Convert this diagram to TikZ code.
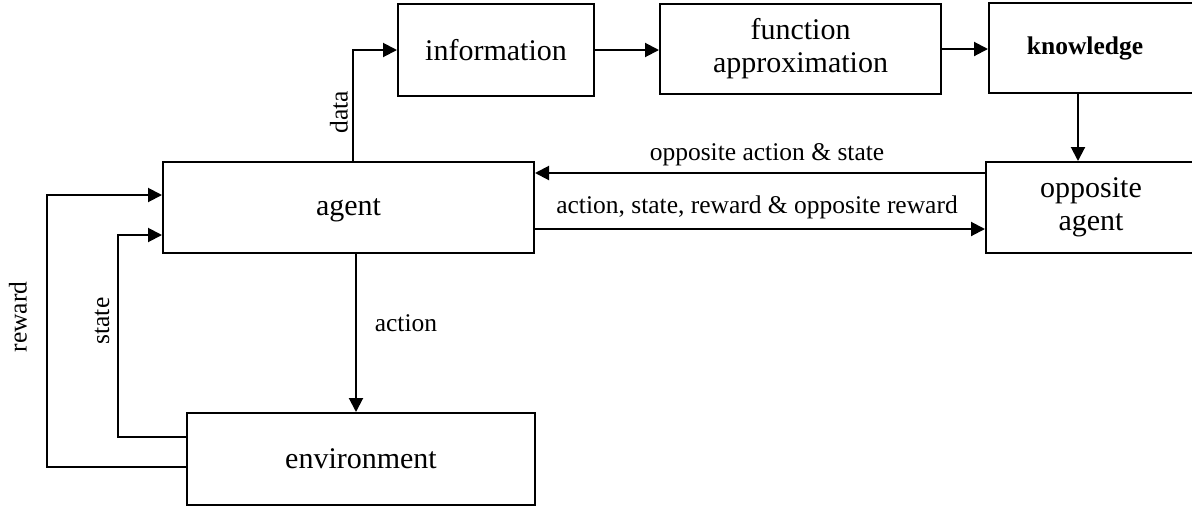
\documentclass[tikz,border=0pt]{standalone}
\usepackage{fontspec}
\setmainfont{Liberation Serif}
\usetikzlibrary{arrows.meta}
\begin{document}
\begin{tikzpicture}[x=1pt,y=-1pt,
  box/.style={draw, line width=2pt, inner sep=0pt, align=center,
    font=\fontsize{30}{33}\selectfont},
  conn/.style={line width=2pt},
  arr/.style={conn, -{Triangle[length=14pt,width=14pt]}},
  elabel/.style={font=\fontsize{25.5}{28}\selectfont, inner sep=0pt}]
\useasboundingbox (0,0) rectangle (1192,507);

% boxes (the two on the right run past the page edge)
\node[box, minimum width=196pt, minimum height=92pt] (info) at (496,50) {information};
\node[box, minimum width=281pt, minimum height=90pt] (func) at (800.5,49) {function\\approximation};
\node[box, minimum width=206pt, minimum height=90pt, font=\fontsize{25.5}{28}\selectfont\bfseries] (know) at (1092,48) {\hspace*{-14pt}knowledge};
\node[box, minimum width=371pt, minimum height=91pt, text depth=0pt] (agent) at (348.5,207.5) {agent};
\node[box, minimum width=210pt, minimum height=91pt] (opp) at (1091,207.5) {opposite\\agent};
\node[box, minimum width=348pt, minimum height=92pt] (env) at (361,459) {environment};

% guide coordinates for the connector routes
\coordinate (dx) at (353,0);
\coordinate (kx) at (1078,0);
\coordinate (ax) at (356,0);
\coordinate (y1) at (0,173);
\coordinate (y2) at (0,229);
\coordinate (sx) at (118,0);
\coordinate (rx) at (47,0);
\coordinate (sin) at (0,235);
\coordinate (rin) at (0,195);
\coordinate (sout) at (0,437);
\coordinate (rout) at (0,467);

% upper chain
\draw[arr] (dx |- agent.north) |- (info.west);
\draw[arr] (info.east) -- (info.east -| func.west);
\draw[arr] (func.east) -- (func.east -| know.west);
\draw[arr] (kx |- know.south) -- (kx |- opp.north);

% agent <-> opposite agent
\draw[arr] (y1 -| opp.west) -- (y1 -| agent.east);
\draw[arr] (y2 -| agent.east) -- (y2 -| opp.west);
\node[elabel] (l1) at (767,155) {opposite action \& state};
\node[elabel] (l2) at (757,207) {action, state, reward \& opposite reward};

% agent <-> environment
\draw[arr] (ax |- agent.south) -- (ax |- env.north);
\draw[arr] (sout -| env.west) -| (sx |- sin) -- (sin -| agent.west);
\draw[arr] (rout -| env.west) -| (rx |- rin) -- (rin -| agent.west);

\node[elabel] (la) at (406,323) {action};
\node[elabel, rotate=90] (ld) at (339,112) {data};
\node[elabel, rotate=90] (ls) at (102,321) {state};
\node[elabel, rotate=90] (lr) at (18,317) {reward};
\end{tikzpicture}
\end{document}
